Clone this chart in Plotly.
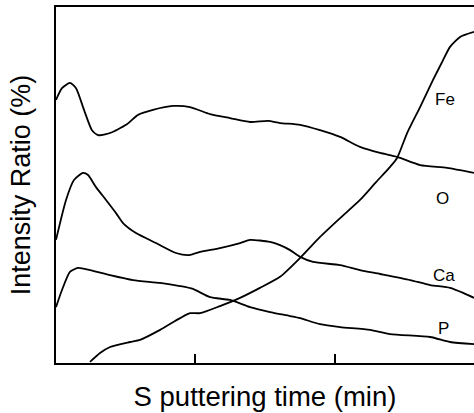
import plotly.graph_objects as go

# O curve
o_x = [0.0, 0.043, 0.100, 0.144, 0.201, 0.258, 0.302, 0.388, 0.503, 0.589, 0.696, 0.840, 0.962,
       1.106, 1.249, 1.393, 1.522, 1.608, 1.752, 1.895, 2.039, 2.182, 2.326, 2.448, 2.613, 2.807, 3.0]
o_y = [73.9, 77.2, 78.7, 77.2, 71.1, 65.4, 64.0, 64.6, 66.9, 69.7, 71.1, 72.2, 71.9,
       69.9, 68.8, 67.7, 68.0, 67.4, 66.9, 65.4, 63.5, 60.7, 59.0, 57.9, 55.6, 54.8, 53.4]

# Ca curve
ca_x = [0.0, 0.072, 0.129, 0.194, 0.230, 0.287, 0.359, 0.431, 0.481, 0.574, 0.718, 0.861, 0.955,
        1.034, 1.177, 1.321, 1.393, 1.536, 1.608, 1.680, 1.752, 1.845, 2.039, 2.182, 2.326,
        2.541, 2.685, 2.828, 2.922, 3.0]
ca_y = [34.6, 45.8, 51.4, 53.4, 52.8, 49.4, 45.8, 42.1, 39.3, 36.5, 33.7, 30.9, 30.3,
        31.2, 32.3, 33.7, 34.6, 34.0, 33.1, 31.7, 29.8, 28.4, 27.5, 26.1, 25.0,
        23.3, 21.9, 21.1, 19.7, 18.3]

# P curve
p_x = [0.0, 0.043, 0.100, 0.158, 0.244, 0.388, 0.553, 0.747, 0.890, 0.983, 1.106, 1.249,
       1.393, 1.536, 1.680, 1.752, 1.895, 2.039, 2.254, 2.398, 2.685, 2.828, 3.0]
p_y = [15.7, 20.5, 25.6, 26.7, 26.1, 24.7, 23.3, 22.5, 21.6, 20.8, 18.5, 17.7,
       15.7, 14.3, 13.2, 12.6, 10.9, 10.1, 9.3, 8.1, 7.3, 5.9, 5.3]

# Fe curve
fe_x = [0.244, 0.316, 0.388, 0.531, 0.603, 0.747, 0.890, 0.962, 1.034, 1.177, 1.321, 1.464,
        1.608, 1.752, 1.895, 2.039, 2.182, 2.297, 2.398, 2.448, 2.520, 2.613, 2.706, 2.778,
        2.828, 2.900, 3.0]
fe_y = [0.3, 2.8, 4.5, 5.9, 6.5, 9.3, 12.6, 14.0, 14.0, 16.0, 18.3, 21.1,
        24.2, 29.5, 35.4, 40.7, 45.8, 50.8, 55.1, 57.6, 64.6, 71.9, 79.5, 85.1,
        88.8, 91.6, 93.0]

labels = ["Fe", "O", "Ca", "P"]
label_x = [2.793, 2.771, 2.785, 2.778]
label_y = [73.9, 46.3, 24.7, 9.8]

x_ticks = [1, 2]

FONT = "Liberation Sans, Arial, sans-serif"
line_style = dict(color="black", width=1.8, shape="spline", smoothing=0.6)

fig = go.Figure()
for xs, ys, nm in [(o_x, o_y, "O"), (ca_x, ca_y, "Ca"), (p_x, p_y, "P"), (fe_x, fe_y, "Fe")]:
    fig.add_trace(go.Scatter(x=xs, y=ys, mode="lines", name=nm, line=line_style,
                             showlegend=False, hoverinfo="skip"))

for t, lx, ly in zip(labels, label_x, label_y):
    fig.add_annotation(x=lx, y=ly, text=t, showarrow=False,
                       font=dict(family=FONT, size=17, color="black"),
                       xanchor="center", yanchor="middle")

fig.update_layout(
    width=474, height=413,
    margin=dict(l=56, r=0, t=7, b=50),
    paper_bgcolor="white", plot_bgcolor="white",
    font=dict(family=FONT, color="black"),
    xaxis=dict(range=[0, 3], showgrid=False, zeroline=False,
               showline=True, linecolor="black", linewidth=2, mirror=True,
               tickmode="array", tickvals=x_ticks, ticks="inside", ticklen=9,
               tickwidth=2, tickcolor="black", showticklabels=False,
               title=dict(text="S puttering time (min)",
                          font=dict(family=FONT, size=27.5, color="black"),
                          standoff=23)),
    yaxis=dict(range=[0, 100], showgrid=False, zeroline=False,
               showline=True, linecolor="black", linewidth=2,
               ticks="", showticklabels=False,
               title=dict(text="Intensity Ratio (%)",
                          font=dict(family=FONT, size=27, color="black"),
                          standoff=16)),
)

fig.write_html("out.html", config={"displayModeBar": False},
               post_script="document.body.style.margin='0';document.body.style.overflow='hidden';")
